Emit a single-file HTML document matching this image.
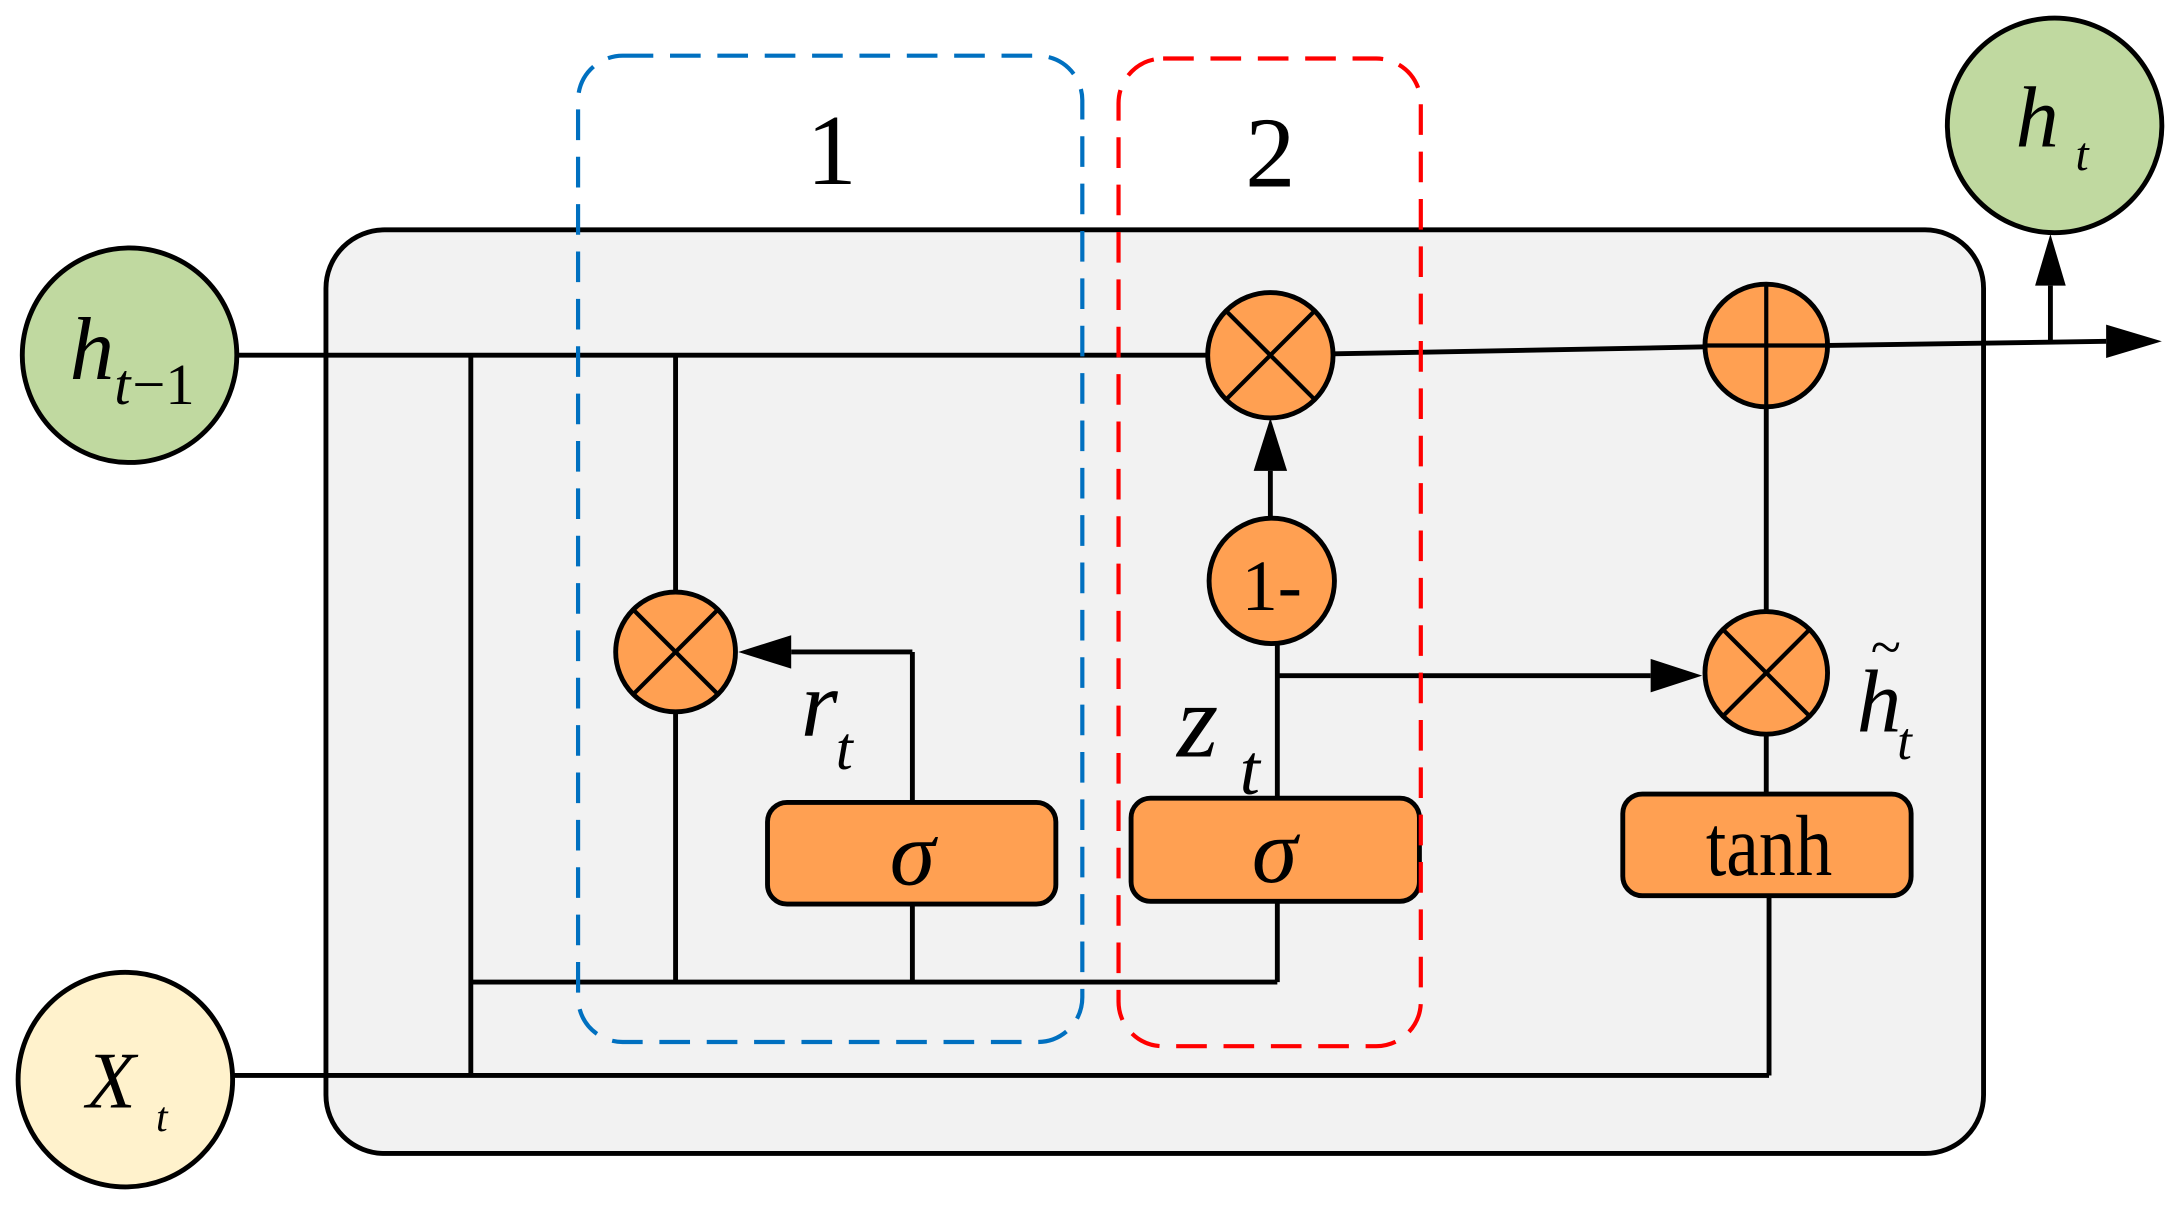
<!DOCTYPE html>
<html><head><meta charset="utf-8"><style>
html,body{margin:0;padding:0;background:#fff;}
svg{display:block;}
text{font-family:"Liberation Serif",serif;}
</style></head><body>
<svg width="2173" height="1205" viewBox="0 0 1560 865" preserveAspectRatio="none" xmlns="http://www.w3.org/2000/svg">
<rect x="234" y="165" width="1190" height="663" rx="42" fill="#f2f2f2" stroke="#000" stroke-width="3.5"/>
<g stroke="#000" stroke-width="3.5" fill="none">
<line x1="170" y1="255" x2="868" y2="255"/>
<line x1="957" y1="254" x2="1225" y2="249"/>
<line x1="1312" y1="248" x2="1512" y2="245"/>
<line x1="338" y1="255" x2="338" y2="772"/>
<line x1="485" y1="255" x2="485" y2="425"/>
<line x1="485" y1="511" x2="485" y2="705"/>
<line x1="338" y1="705" x2="917" y2="705"/>
<line x1="917" y1="705" x2="917" y2="647"/>
<line x1="655" y1="705" x2="655" y2="649"/>
<line x1="655" y1="576" x2="655" y2="468"/>
<line x1="655" y1="468" x2="568" y2="468"/>
<line x1="917" y1="573" x2="917" y2="462"/>
<line x1="917" y1="485" x2="1185" y2="485"/>
<line x1="912" y1="372" x2="912" y2="338"/>
<line x1="1268" y1="292" x2="1268" y2="439"/>
<line x1="1268" y1="527" x2="1268" y2="570"/>
<line x1="1270" y1="643" x2="1270" y2="772"/>
<line x1="167" y1="772" x2="1270" y2="772"/>
<line x1="1472" y1="245" x2="1472" y2="205"/>
</g>
<g fill="#000">
<path d="M530,468 L568,456 L568,480 z"/>
<path d="M1222,485 L1185,473 L1185,497 z"/>
<path d="M912,300 L900,338 L924,338 z"/>
<path d="M1552,245 L1512,233 L1512,257 z"/>
<path d="M1472,168 L1461,205 L1483,205 z"/>
</g>
<g fill="#ffa052" stroke="#000" stroke-width="3.5">
<circle cx="485" cy="468" r="43"/>
<circle cx="912" cy="255" r="45"/>
<circle cx="1268" cy="248" r="44"/>
<circle cx="1268" cy="483" r="44"/>
<circle cx="913" cy="417" r="45"/>
<rect x="551" y="576" width="207" height="73" rx="14"/>
<rect x="812" y="573" width="207" height="74" rx="14"/>
<rect x="1165" y="570" width="207" height="73" rx="14"/>
</g>
<g stroke="#000" stroke-width="3">
<line x1="455" y1="438" x2="515" y2="498"/><line x1="515" y1="438" x2="455" y2="498"/>
<line x1="880" y1="223" x2="944" y2="287"/><line x1="944" y1="223" x2="880" y2="287"/>
<line x1="1237" y1="452" x2="1299" y2="514"/><line x1="1299" y1="452" x2="1237" y2="514"/>
<line x1="1224" y1="248" x2="1312" y2="248"/><line x1="1268" y1="204" x2="1268" y2="292"/>
</g>
<circle cx="93" cy="255" r="77" fill="#c0d9a0" stroke="#000" stroke-width="3.5"/>
<circle cx="1475" cy="90" r="77" fill="#c0d9a0" stroke="#000" stroke-width="3.5"/>
<circle cx="90" cy="775" r="77" fill="#fff2cc" stroke="#000" stroke-width="3.5"/>
<rect x="415" y="40" width="362" height="708" rx="32" fill="none" stroke="#0070c0" stroke-width="3" stroke-dasharray="22,12"/>
<rect x="803" y="42" width="217" height="709" rx="32" fill="none" stroke="#ff0000" stroke-width="3" stroke-dasharray="22,12"/>
<text x="597" y="132" font-size="72" text-anchor="middle">1</text>
<text x="912" y="134" font-size="72" text-anchor="middle">2</text>
<text x="655" y="635" font-size="66" font-style="italic" text-anchor="middle">σ</text>
<text x="915" y="633" font-size="66" font-style="italic" text-anchor="middle">σ</text>
<text x="1270" y="628" font-size="62" text-anchor="middle" transform="translate(1270 0) scale(0.85 1) translate(-1270 0)">tanh</text>
<text x="913" y="438" font-size="52" text-anchor="middle">1-</text>
<text x="50" y="272" font-size="64" font-style="italic">h</text>
<text x="82" y="290" font-size="42" font-style="italic">t</text><text x="95" y="290" font-size="42">−1</text>
<text x="1447" y="105" font-size="62" font-style="italic">h</text>
<text x="1490" y="122" font-size="34" font-style="italic">t</text>
<text x="62" y="795" font-size="58" font-style="italic">X</text>
<text x="112" y="812" font-size="30" font-style="italic">t</text>
<text x="575" y="528" font-size="68" font-style="italic">r</text>
<text x="600" y="552" font-size="44" font-style="italic">t</text>
<text x="845" y="543" font-size="76" font-style="italic">z</text>
<text x="890" y="570" font-size="52" font-style="italic">t</text>
<text x="1333" y="525" font-size="64" font-style="italic">h</text>
<text x="1343" y="478" font-size="40">~</text>
<text x="1362" y="545" font-size="38" font-style="italic">t</text>
</svg>
</body></html>
